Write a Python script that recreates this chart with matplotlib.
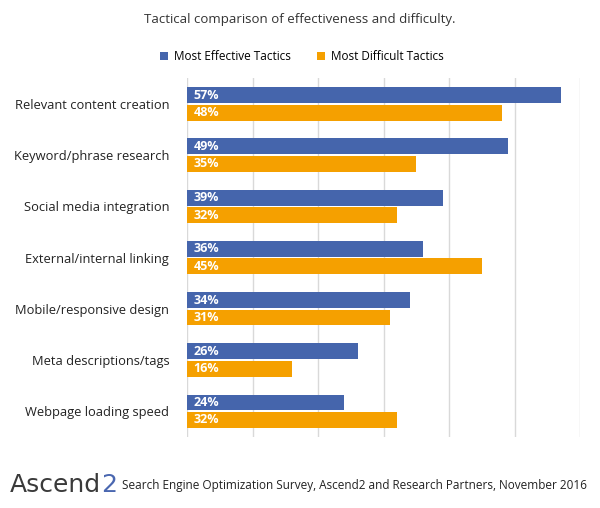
import numpy as np
import matplotlib.pyplot as plt

plt.rcParams['font.family'] = ['Open Sans', 'DejaVu Sans']

tactics = ["Relevant content creation", "Keyword/phrase research", "Social media integration",
           "External/internal linking", "Mobile/responsive design", "Meta descriptions/tags",
           "Webpage loading speed"]
effective = [57, 49, 39, 36, 34, 26, 24]
difficult = [48, 35, 32, 45, 31, 16, 32]

blue = "#4565AC"
orange = "#F5A000"

fig = plt.figure(figsize=(6, 5.08), dpi=100)
ax = fig.add_axes([0.312, 0.140, 0.655, 0.706])

y = np.arange(len(tactics))
h = 0.31
off = 0.17
ax.barh(y - off, effective, height=h, color=blue, label="Most Effective Tactics", zorder=3)
ax.barh(y + off, difficult, height=h, color=orange, label="Most Difficult Tactics", zorder=3)

for i in range(len(tactics)):
    ax.text(1.0, y[i] - off, f"{effective[i]}%", color="white", fontweight="bold",
            fontsize=9, va="center", ha="left", zorder=4)
    ax.text(1.0, y[i] + off, f"{difficult[i]}%", color="white", fontweight="bold",
            fontsize=9, va="center", ha="left", zorder=4)

ax.set_xlim(0, 60)
ax.set_ylim(len(tactics) - 0.5, -0.5)
ax.set_xticks(np.arange(0, 61, 10))
ax.xaxis.grid(True, color="#D9D9D9", linewidth=1, zorder=0)
ax.tick_params(axis="x", length=0, labelbottom=False)
ax.tick_params(axis="y", length=0, pad=13, labelsize=9.3)
ax.set_yticks(y)
ax.set_yticklabels(tactics, color="#222222")
for s in ax.spines.values():
    s.set_visible(False)

fig.text(0.5, 0.962, "Tactical comparison of effectiveness and difficulty.", ha="center",
         va="center", fontsize=9.5, color="#333333")
fig.legend(loc="center", bbox_to_anchor=(0.503, 0.889),
           ncol=2, frameon=False, fontsize=8.5, handlelength=0.7, handleheight=0.7,
           columnspacing=2.2, handletextpad=0.5)

logo = fig.text(0.016, 0.045, "Ascend", fontsize=18, family="DejaVu Sans", color="#3a3a3a",
                ha="left", va="center")
fig.canvas.draw()
bb = logo.get_window_extent().transformed(fig.transFigure.inverted())
fig.text(bb.x1, 0.045, "2", fontsize=18, family="DejaVu Sans", color="#4A67B0",
         ha="left", va="center")
fig.text(0.204, 0.045, "Search Engine Optimization Survey, Ascend2 and Research Partners, November 2016",
         fontsize=8.5, color="#222222", ha="left", va="center")

fig.savefig("out.png", dpi=100)
